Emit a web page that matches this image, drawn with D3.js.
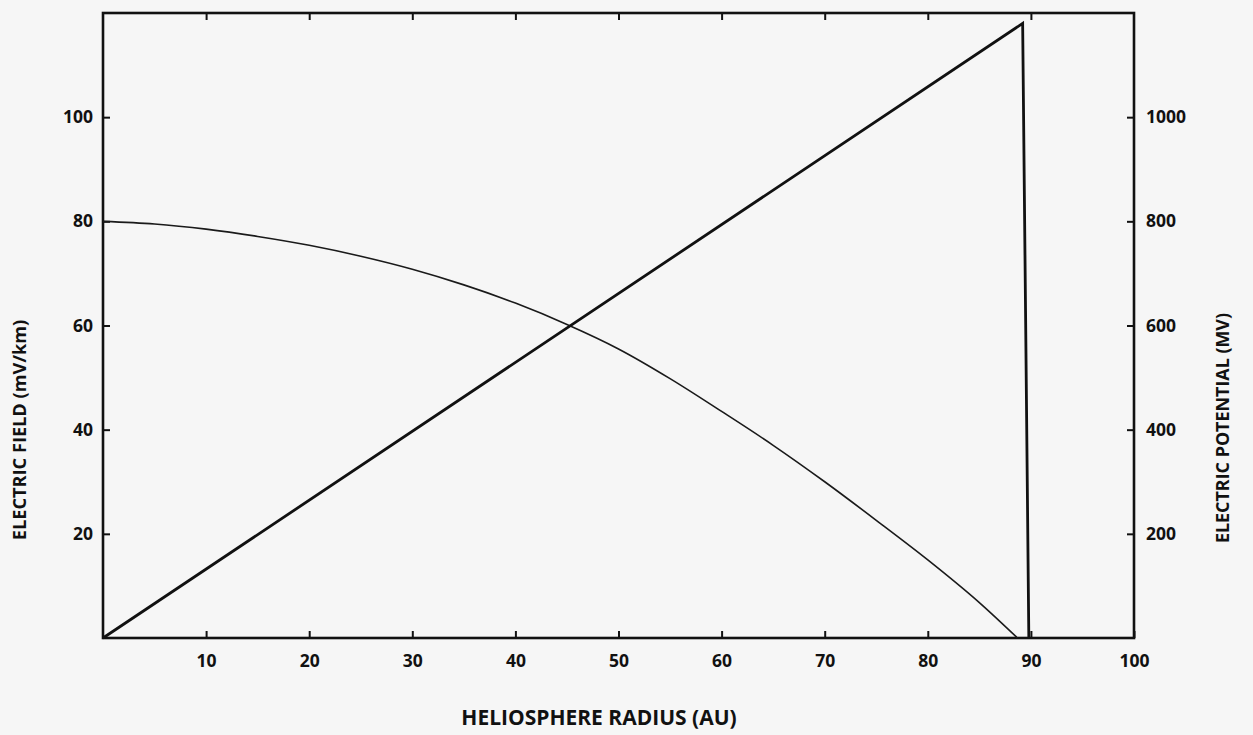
<!DOCTYPE html>
<html><head><meta charset="utf-8">
<script src="https://cdn.jsdelivr.net/npm/d3@7"></script>
<style>
html,body{margin:0;padding:0;background:#f6f6f6;}
svg{display:block;}
text{font-family:"Open Sans",Lato,sans-serif;font-weight:bold;fill:#111;}
</style></head>
<body>
<script>
// Data
const radiusField = [0, 5, 10, 15, 20, 25, 30, 35, 40, 45, 50, 55, 60, 65, 70, 75, 80, 85, 88.7];
const electricField = [80, 79.5, 78.5, 77.1, 75.4, 73.3, 70.8, 67.8, 64.3, 60.2, 55.5, 49.8, 43.5, 37.0, 30.0, 22.6, 15.0, 6.8, 0];
const radiusPotential = [0, 89.2, 89.8];
const electricPotential = [0, 1180, 0];
const xTicks = [10, 20, 30, 40, 50, 60, 70, 80, 90, 100];
const leftTicks = [20, 40, 60, 80, 100];
const rightTicks = [200, 400, 600, 800, 1000];

const W = 1253, H = 735;
const m = {left: 103, right: 1134, top: 13, bottom: 638};

const svg = d3.select("body").append("svg").attr("width", W).attr("height", H);
svg.append("rect").attr("width", W).attr("height", H).attr("fill", "#f6f6f6");

const x = d3.scaleLinear().domain([0, 100]).range([m.left, m.right]);
const yL = d3.scaleLinear().domain([0, 120]).range([m.bottom, m.top]);
const yR = d3.scaleLinear().domain([0, 1200]).range([m.bottom, m.top]);

const tickLen = 7;
function styleAxis(g){
  g.select(".domain").remove();
  g.selectAll(".tick line").attr("stroke", "#111").attr("stroke-width", 2);
  g.selectAll(".tick text").style("font-size", "17.5px").style("font-family", "'Open Sans',sans-serif").style("font-weight", "bold").attr("fill", "#111");
}

// bottom axis: ticks inward (upward)
svg.append("g").attr("transform", `translate(0,${m.bottom})`)
  .call(d3.axisBottom(x).tickValues(xTicks).tickFormat(d3.format("d")).tickSizeInner(-tickLen).tickSizeOuter(0).tickPadding(15))
  .call(styleAxis)
  .call(g => g.selectAll(".tick text").attr("dy", "0.8em"));
// top axis ticks (no labels)
svg.append("g").attr("transform", `translate(0,${m.top})`)
  .call(d3.axisTop(x).tickValues(xTicks.slice(0, 9)).tickFormat("").tickSizeInner(-tickLen).tickSizeOuter(0))
  .call(styleAxis);
// left axis
svg.append("g").attr("transform", `translate(${m.left},0)`)
  .call(d3.axisLeft(yL).tickValues(leftTicks).tickFormat(d3.format("d")).tickSizeInner(-tickLen).tickSizeOuter(0).tickPadding(10))
  .call(styleAxis);
// right axis
svg.append("g").attr("transform", `translate(${m.right},0)`)
  .call(d3.axisRight(yR).tickValues(rightTicks).tickFormat(d3.format("d")).tickSizeInner(-tickLen).tickSizeOuter(0).tickPadding(12))
  .call(styleAxis);

// frame
svg.append("rect").attr("x", m.left).attr("y", m.top)
  .attr("width", m.right - m.left).attr("height", m.bottom - m.top)
  .attr("fill", "none").attr("stroke", "#111").attr("stroke-width", 2.6);

// electric field curve
const fieldData = radiusField.map((r, i) => [r, electricField[i]]);
svg.append("path").datum(fieldData)
  .attr("fill", "none").attr("stroke", "#1a1a1a").attr("stroke-width", 1.6)
  .attr("d", d3.line().x(d => x(d[0])).y(d => yL(d[1])).curve(d3.curveMonotoneX));

// electric potential
const potData = radiusPotential.map((r, i) => [r, electricPotential[i]]);
svg.append("path").datum(potData)
  .attr("fill", "none").attr("stroke", "#111").attr("stroke-width", 2.8).attr("stroke-linejoin", "miter")
  .attr("d", d3.line().x(d => x(d[0])).y(d => yR(d[1])));

// axis titles
svg.append("text").attr("transform", `translate(26,430) rotate(-90)`)
  .attr("text-anchor", "middle").style("font-size", "18.2px").text("ELECTRIC FIELD (mV/km)");
svg.append("text").attr("transform", `translate(1229,428) rotate(-90)`)
  .attr("text-anchor", "middle").style("font-size", "17.9px").text("ELECTRIC POTENTIAL (MV)");
svg.append("text").attr("x", 599).attr("y", 725)
  .attr("text-anchor", "middle").style("font-size", "21px").text("HELIOSPHERE RADIUS (AU)");
</script>
</body></html>
